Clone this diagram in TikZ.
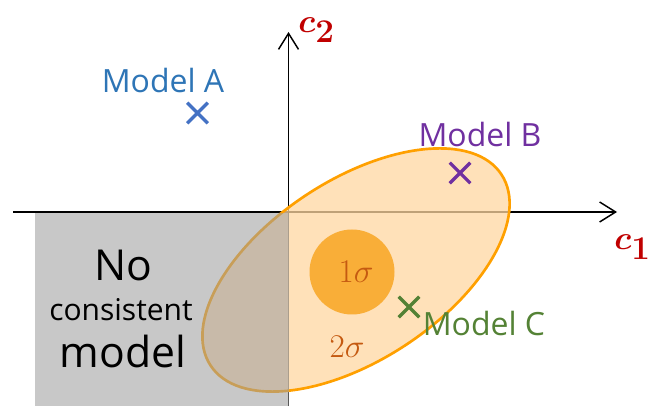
\documentclass[tikz,border=0pt]{standalone}
\usepackage{fontspec}
\setmainfont{Open Sans}
\usepackage{tikz}
\usetikzlibrary{arrows.meta,shapes.misc}
\definecolor{cpInk}{HTML}{000000}
\definecolor{cpAxisRed}{HTML}{C00000}
\definecolor{cpBlueText}{HTML}{2E75B6}
\definecolor{cpBlue}{HTML}{4472C4}
\definecolor{cpPurple}{HTML}{7030A0}
\definecolor{cpGreenText}{HTML}{548235}
\definecolor{cpGreen}{HTML}{538135}
\definecolor{cpOrange}{HTML}{FFA000}
\definecolor{cpOrangeFill}{HTML}{FFD7A1}
\definecolor{cpCore}{HTML}{F9AE38}
\definecolor{cpSigma}{HTML}{C55A11}
\definecolor{cpGray}{HTML}{9D9D9D}
\tikzset{
  cpAxis/.style={draw=cpInk,line width=1.1pt,-{Straight Barb[length=12pt,width=15pt]}},
  cpMarker/.style={cross out,draw,line width=2.4pt,minimum size=13pt,inner sep=0pt},
  cpModel/.style={anchor=base,inner sep=0pt,font=\fontsize{24}{28}\selectfont},
  cpAxisLabel/.style={anchor=base west,inner sep=0pt,text=cpAxisRed,font=\fontsize{38}{38}\selectfont\boldmath},
  cpSigmaLabel/.style={anchor=base,inner sep=0pt,text=cpSigma,font=\fontsize{25}{25}\selectfont},
  cpBig/.style={anchor=base,inner sep=0pt,font=\fontsize{32}{36}\selectfont},
  cpSmall/.style={anchor=base,inner sep=0pt,font=\fontsize{22.5}{26}\selectfont}
}

\begin{document}
\begin{tikzpicture}[x=0.75pt,y=0.75pt]
\useasboundingbox (0,0) rectangle (648,406);
\coordinate (xStart) at (13,194);
\coordinate (xEnd) at (617,194);
\coordinate (yStart) at (288.5,0);
\coordinate (yEnd) at (288.5,374);
\draw[cpAxis] (xStart) -- (xEnd);
\draw[cpAxis] (yStart) -- (yEnd);
\node[cpAxisLabel] (cOne) at (614,156) {$c_1$};
\node[cpAxisLabel] (cTwo) at (298,373) {$c_2$};

\draw[rotate around={33.3:(356,136)},fill=cpOrangeFill,fill opacity=0.75,
  draw=cpOrange,line width=2pt] (356,136) ellipse [x radius=174,y radius=90];
\node[circle,fill=cpCore,minimum size=63.75pt,inner sep=0pt] (core) at (352,134) {};
\node[cpSigmaLabel] (oneSigma) at (356,123) {$1\sigma$};
\node[cpSigmaLabel] (twoSigma) at (347,48) {$2\sigma$};

\fill[cpGray,fill opacity=0.56] (35,0) rectangle (289,193);
\node[cpBig] (noLbl) at (123,125) {No};
\node[cpSmall] (consistentLbl) at (121,85) {consistent};
\node[cpBig] (modelLbl) at (123,38) {model};

\node[cpModel,text=cpBlueText] (modelA) at (163,313) {Model A};
\node[cpMarker,draw=cpBlue] (crossA) at (197.5,293) {};
\node[cpModel,text=cpPurple] (modelB) at (480,259) {Model B};
\node[cpMarker,draw=cpPurple] (crossB) at (460,233) {};
\node[cpModel,text=cpGreenText] (modelC) at (484,70) {Model C};
\node[cpMarker,draw=cpGreen] (crossC) at (409,99) {};
\end{tikzpicture}
\end{document}
